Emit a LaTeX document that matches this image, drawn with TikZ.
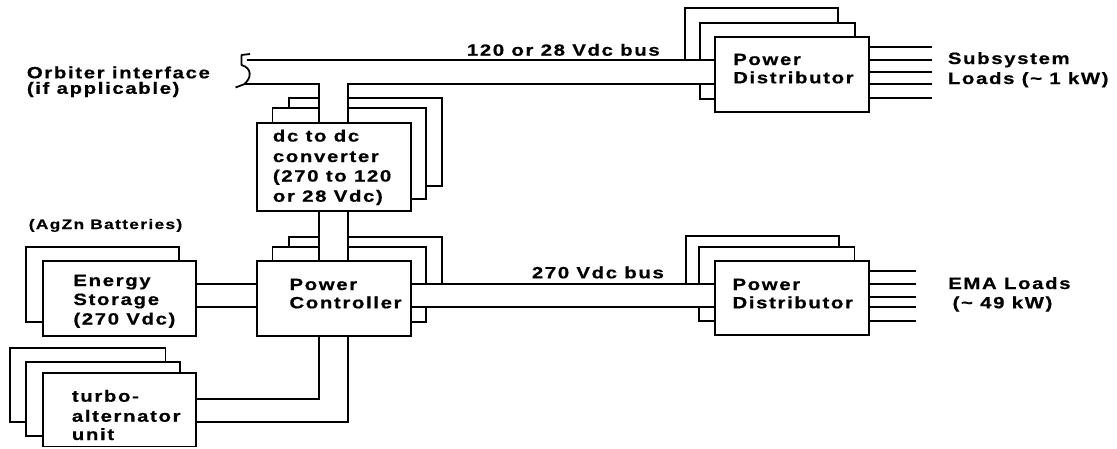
\documentclass[tikz,border=0pt]{standalone}
\usepackage{fontspec}
\newfontfamily\lblfont{Liberation Sans}[FakeStretch=1.25,LetterSpace=10,FakeBold=0.6]
\usetikzlibrary{calc}
\begin{document}
\begin{tikzpicture}[x=1pt,y=-1pt,line width=1.8pt,
  box/.style={draw,fill=white,rectangle,inner sep=0pt,outer sep=0pt,anchor=north west},
  back/.style={draw,fill=white},
  band/.style={fill=white,draw=none},
  lbl/.style={inner sep=0pt,anchor=base west,font=\lblfont\bfseries\fontsize{16.3}{19}\selectfont},
  smalllbl/.style={lbl,font=\lblfont\bfseries\fontsize{13.8}{16}\selectfont}]
\useasboundingbox (0,0) rectangle (1117,448);

% ---- back layers of the stacks ----
% converter
\path[back] (288.6,98.3) rectangle (441.8,185.7);
\path[back] (272.5,108.3) rectangle (426.1,199);
% power controller
\path[back] (288.6,236.7) rectangle (441.8,300);
\path[back] (272.5,247.3) rectangle (426.1,322.3);
% energy storage
\path[back] (26.1,247.3) rectangle (178.6,322.3);
% turbo-alternator
\path[back] (10,348.3) rectangle (165.4,422.3);
\path[back] (26,361.7) rectangle (180,436);
% power distributor (top)
\path[back] (685,8.3) rectangle (838.2,75);
\path[back] (699.6,23.3) rectangle (854.8,99);
% power distributor (bottom)
\path[back] (686.1,236) rectangle (838.9,295);
\path[back] (699.3,247.3) rectangle (854.5,321);

% ---- white bands of the buses ----
\path[band] (246,60.3) -- (715.2,60.3) -- (715.2,84.3) -- (348.2,84.3) -- (348.2,122.7)
  -- (318.9,122.7) -- (318.9,84.3) -- (243,84.3) -- cycle;
\path[band] (318.9,210.7) rectangle (348.2,261);
\path[band] (410.7,284) rectangle (715.2,307.3);
\path[band] (195.7,284) rectangle (257.1,307.3);

% ---- front boxes ----
\node[box,minimum width=153.6pt,minimum height=88pt] (conv) at (257.1,122.7) {};
\node[box,minimum width=153.6pt,minimum height=74.7pt] (ctrl) at (257.1,261) {};
\node[box,minimum width=152.8pt,minimum height=74.7pt] (stor) at (42.9,261) {};
\node[box,minimum width=153pt,minimum height=73.8pt] (turb) at (42.7,372.7) {};
\node[box,minimum width=153.8pt,minimum height=74.4pt] (distA) at (715.2,37.3) {};
\node[box,minimum width=153.8pt,minimum height=74.3pt] (distB) at (715.2,260.7) {};

% ---- bus coordinates ----
\coordinate (tU) at (0,60.3);
\coordinate (tL) at (0,84.3);
\coordinate (vL) at (318.9,0);
\coordinate (vR) at (348.2,0);
\coordinate (mU) at (0,284);
\coordinate (mL) at (0,307.3);
\coordinate (tA) at (0,399);
\coordinate (tB) at (0,422.3);
\coordinate (brkU) at (246.5,60.3);
\coordinate (brkL) at (244,84.3);

% ---- orbiter interface break ----
\draw[line join=round] (250,54) -- (241.5,55) -- (241.5,65)
  .. controls (252,68) and (252,78) .. (brkL) -- (235.5,87.5);

% ---- 120 or 28 Vdc bus ----
\draw (brkU) -- (distA.west |- tU);
\draw (brkL) -- (vL |- tL) -- (vL |- conv.north);
\draw (vR |- conv.north) -- (vR |- tL) -- (distA.west |- tL);

% ---- converter to controller ----
\draw (vL |- conv.south) -- (vL |- ctrl.north);
\draw (vR |- conv.south) -- (vR |- ctrl.north);

% ---- 270 Vdc bus ----
\draw (ctrl.east |- mU) -- (distB.west |- mU);
\draw (ctrl.east |- mL) -- (distB.west |- mL);

% ---- energy storage to controller ----
\draw (stor.east |- mU) -- (ctrl.west |- mU);
\draw (stor.east |- mL) -- (ctrl.west |- mL);

% ---- turbo-alternator to controller ----
\draw (turb.east |- tA) -- (vL |- tA) -- (vL |- ctrl.south);
\draw (turb.east |- tB) -- (vR |- tB) -- (vR |- ctrl.south);

% ---- load lines ----
\foreach \y in {46.7,60.3,72,84.3,97.7}
  \draw (distA.east) ++(0,\y-74.5) -- ++(62.7,0);
\foreach \y in {271,284,297.3,307.3,321}
  \draw (distB.east) ++(0,\y-297.85) -- ++(47,0);

% ---- texts ----
\node[lbl] (t120) at (466,55.7) {120 or 28 Vdc bus};
\node[lbl] (orb1) at (26,78.3) {Orbiter interface};
\node[lbl] (orb2) at (26,93.8) {(if applicable)};
\node[lbl] (cv1) at (272,141.5) {dc to dc};
\node[lbl] (cv2) at (272,162) {converter};
\node[lbl] (cv3) at (272,181.5) {(270 to 120};
\node[lbl] (cv4) at (272,201.7) {or 28 Vdc)};
\node[lbl] (da1) at (732.3,65) {Power};
\node[lbl] (da2) at (732.3,83.3) {Distributor};
\node[lbl] (sub1) at (947,64) {Subsystem};
\node[lbl] (sub2) at (947,84) {Loads (\textasciitilde{} 1 kW)};
\node[smalllbl] (ag) at (27.9,229) {(AgZn Batteries)};
\node[lbl] (es1) at (72.5,286) {Energy};
\node[lbl] (es2) at (72.5,305) {Storage};
\node[lbl] (es3) at (72.5,324.5) {(270 Vdc)};
\node[lbl] (pc1) at (288.6,290) {Power};
\node[lbl] (pc2) at (288.6,308.3) {Controller};
\node[lbl] (t270) at (531,278.3) {270 Vdc bus};
\node[lbl] (db1) at (731.6,290) {Power};
\node[lbl] (db2) at (731.6,308.3) {Distributor};
\node[lbl] (ema1) at (947.3,289) {EMA Loads};
\node[lbl] (ema2) at (951.7,308.3) {(\textasciitilde{} 49 kW)};
\node[lbl] (tu1) at (71,401.7) {turbo-};
\node[lbl] (tu2) at (71,421.7) {alternator};
\node[lbl] (tu3) at (71,440) {unit};
\end{tikzpicture}
\end{document}
